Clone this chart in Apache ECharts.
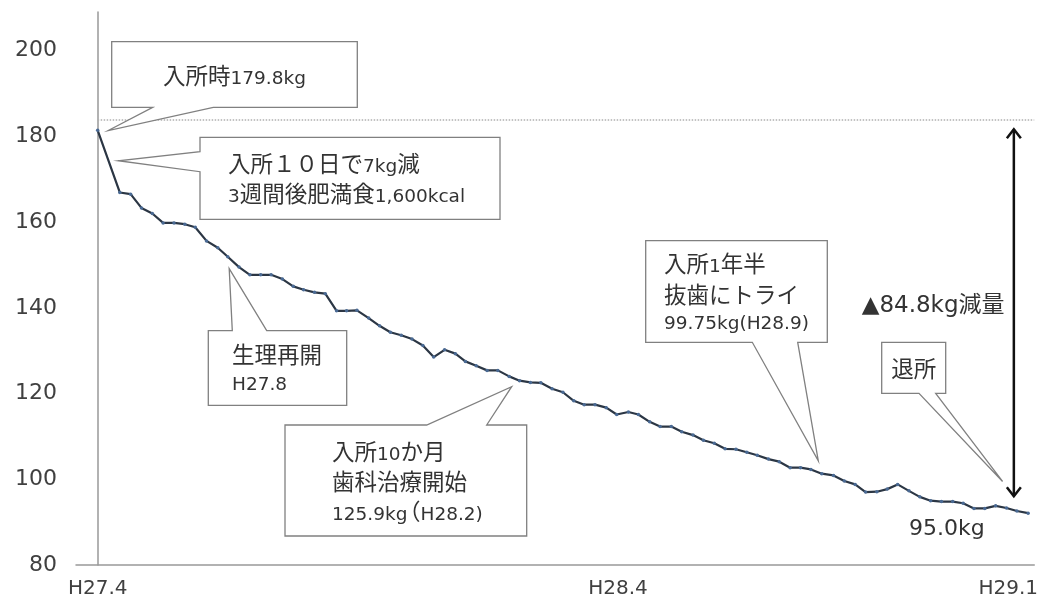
<!DOCTYPE html>
<html><head><meta charset="utf-8">
<script src="https://cdn.jsdelivr.net/npm/echarts@6/dist/echarts.min.js"></script>
<style>html,body{margin:0;padding:0;background:#fff}#c{width:1041px;height:599px}</style>
</head><body><div id="c"></div>
<script>
// months since H27.4 (entry)
const months = [0,0.51,0.76,1.01,1.26,1.51,1.76,2.01,2.25,2.51,2.77,3.0,3.26,3.51,3.76,4.0,4.26,4.51,4.75,5.0,5.25,5.51,5.74,5.98,6.25,6.5,6.75,7.0,7.25,7.5,7.75,8.0,8.25,8.48,8.73,8.98,9.23,9.49,9.73,9.98,10.22,10.48,10.73,10.98,11.22,11.47,11.73,11.97,12.24,12.47,12.73,12.97,13.23,13.47,13.73,13.97,14.22,14.47,14.72,14.97,15.21,15.47,15.72,15.97,16.21,16.45,16.7,16.97,17.22,17.47,17.71,17.97,18.21,18.45,18.71,18.96,19.21,19.46,19.72,19.96,20.21,20.46,20.71,20.96,21.2,21.46];
const weights = [181.4,166.9,166.5,163.3,162.0,159.8,159.8,159.5,158.8,155.6,154.0,151.9,149.5,147.7,147.7,147.7,146.7,145.0,144.2,143.6,143.3,139.3,139.3,139.4,137.6,135.8,134.3,133.6,132.7,131.2,128.5,130.2,129.3,127.5,126.5,125.4,125.4,124.0,123.0,122.6,122.5,121.1,120.3,118.3,117.4,117.4,116.7,115.1,115.7,115.1,113.4,112.3,112.3,111.1,110.3,109.1,108.4,107.1,107.0,106.3,105.6,104.7,104.1,102.7,102.7,102.3,101.3,100.9,99.6,98.8,97.0,97.1,97.7,98.8,97.3,95.9,95.0,94.8,94.8,94.4,93.2,93.2,93.8,93.3,92.6,92.1];
const xTickMonths = [0, 12, 21];
const xTickLabels = ['H27.4', 'H28.4', 'H29.1'];
const yTicks = [80, 100, 120, 140, 160, 180, 200];
const startLevel = 183.8;
const arrowMonth = 21.13, arrowTop = 181.9, arrowBottom = 95.8;

const calloutTexts = [
  ['入所時179.8kg'],
  ['入所１０日で7kg減', '3週間後肥満食1,600kcal'],
  ['生理再開', 'H27.8'],
  ['入所10か月', '歯科治療開始', '125.9kg（H28.2)'],
  ['入所1年半', '抜歯にトライ', '99.75kg(H28.9)'],
  ['退所']
];
const calloutTips = [[0.244,181.35],[0.475,174.3],[3.033,149.15],[9.548,121.6],[16.62,104.28],[20.87,99.49]];
const reductionText = '▲84.8kg減量';
const finalText = '95.0kg';

const chart = echarts.init(document.getElementById('c'), null, {renderer:'canvas'});
const data = months.map((m,i)=>[m, weights[i]]);
chart.setOption({
  animation:false,
  grid:{left:76,right:6,top:12,bottom:33},
  xAxis:{type:'value',min:-0.5,max:21.6,interval:0.5,
    axisLine:{lineStyle:{color:'#999',width:1.5}},axisTick:{show:false},splitLine:{show:false},
    axisLabel:{fontFamily:'DejaVu Sans',fontSize:20,color:'#404040',margin:14,showMinLabel:true,showMaxLabel:true,
      formatter:v=>{const i=xTickMonths.findIndex(t=>Math.abs(t-v)<1e-6);return i>=0?xTickLabels[i]:'';}}},
  yAxis:{type:'value',min:80,max:209,interval:20,
    axisLine:{show:true,lineStyle:{color:'#999',width:1.5}},axisTick:{show:false},splitLine:{show:false},
    axisLabel:{fontFamily:'DejaVu Sans',fontSize:22,color:'#404040',margin:19,
      formatter:v=>yTicks.indexOf(v)>=0?String(v):''}},
  series:[{type:'line',data:data,symbol:'circle',symbolSize:3.5,
    itemStyle:{color:'#4a6a94'},lineStyle:{color:'#2b3644',width:2.2},
    markLine:{silent:true,symbol:'none',label:{show:false},
      lineStyle:{type:'dotted',color:'#b0b0b0',width:1.5},
      data:[[{coord:[0,startLevel]},{coord:[21.6,startLevel]}]]}}]
});

function px(p){return chart.convertToPixel({gridIndex:0},p);}
const mctx=document.createElement('canvas').getContext('2d');
const LATIN='DejaVu Sans', CJK='Noto Sans CJK JP';
function fontStr(fam,size){return size+'px "'+fam+'"';}
function measure(fam,size,s){mctx.font=fontStr(fam,size);mctx.textBaseline='alphabetic';return mctx.measureText(s).width;}
function midToBase(fam,size){mctx.font=fontStr(fam,size);mctx.textBaseline='middle';const m=mctx.measureText('H');return m.actualBoundingBoxDescent;}
function splitSegs(s){const out=[];s.replace(/([\u3000-\u9fff\uff00-\uffef]+)|([^\u3000-\u9fff\uff00-\uffef]+)/g,(m,c,l)=>{out.push(c?{t:c,cjk:true}:{t:l,cjk:false});return m;});return out;}
// line of mixed text: x (left or center), ty: visual middle of glyphs
function textLine(x,ty,s,latin,cjk,align){
  const segs=splitSegs(s);
  const hasC=segs.some(g=>g.cjk);
  const base=ty+0.37*(hasC?cjk:latin);
  segs.forEach(g=>{g.fam=g.cjk?CJK:LATIN;g.size=g.cjk?cjk:latin;g.w=measure(g.fam,g.size,g.t);
    g.shift=(g.cjk&&g.t.charAt(0)==='（')?0.42*g.size:0;g.w-=g.shift;});
  const total=segs.reduce((a,g)=>a+g.w,0);
  let cx=align==='center'?x-total/2:x;
  const els=[];
  segs.forEach(g=>{
    const y=base-midToBase(g.fam,g.size);
    els.push({type:'text',x:cx-g.shift,y:y,z:20,style:{text:g.t,fontFamily:g.fam,fontSize:g.size,fill:'#333',align:'left',verticalAlign:'middle'}});
    cx+=g.w;
  });
  return els;
}
const boxes = [
  {x:111.7,y:41.7,w:245.6,h:65.6,edge:'bottom',b:[152.7,213.3],tx:234.5,ty:[76],align:'center'},
  {x:200,y:137.3,w:300,h:82,edge:'left',b:[151.7,171.7],tx:228,ty:[164,193.3]},
  {x:208.3,y:330.7,w:138.4,h:74.6,edge:'top',b:[232.3,266.7],tx:232,ty:[354.3,383.3]},
  {x:285,y:425,w:241.7,h:111,edge:'top',b:[426.7,486.7],tx:332,ty:[451.7,481.7,511.7]},
  {x:645.7,y:240.7,w:181.6,h:101.6,edge:'bottom',b:[752.3,797.7],tx:664,ty:[263.3,294.3,321.7]},
  {x:881.7,y:342.3,w:64,h:51,edge:'bottom',b:[919,935.7],tx:913.8,ty:[368.3],align:'center'}
];
const g=[];
boxes.forEach((bx,i)=>{
  const t=px(calloutTips[i]);
  const x=bx.x,y=bx.y,r=bx.x+bx.w,bt=bx.y+bx.h;let pts;
  if(bx.edge==='bottom') pts=[[x,y],[r,y],[r,bt],[bx.b[1],bt],t,[bx.b[0],bt],[x,bt]];
  else if(bx.edge==='top') pts=[[x,y],[bx.b[0],y],t,[bx.b[1],y],[r,y],[r,bt],[x,bt]];
  else pts=[[x,y],[r,y],[r,bt],[x,bt],[x,bx.b[1]],t,[x,bx.b[0]]];
  g.push({type:'polygon',z:10,shape:{points:pts},style:{fill:'#fff',stroke:'#808080',lineWidth:1.3}});
  calloutTexts[i].forEach((s,j)=>g.push(...textLine(bx.tx,bx.ty[j],s,18.5,22.5,bx.align)));
});
const a1=px([arrowMonth,arrowTop]),a2=px([arrowMonth,arrowBottom]);
const ax=a1[0];
g.push({type:'polyline',z:15,shape:{points:[[ax,a1[1]+1],[ax,a2[1]-1]]},style:{stroke:'#111',lineWidth:2.5}});
g.push({type:'polyline',z:15,shape:{points:[[ax-7,a1[1]+10],[ax,a1[1]+1],[ax+7,a1[1]+10]]},style:{stroke:'#111',lineWidth:2.5,fill:null}});
g.push({type:'polyline',z:15,shape:{points:[[ax-7,a2[1]-10],[ax,a2[1]-1],[ax+7,a2[1]-10]]},style:{stroke:'#111',lineWidth:2.5,fill:null}});
g.push(...textLine(861.7,303.5,reductionText,23,23));
g.push(...textLine(909,526.7,finalText,22,22));
chart.setOption({graphic:g});
</script></body></html>
